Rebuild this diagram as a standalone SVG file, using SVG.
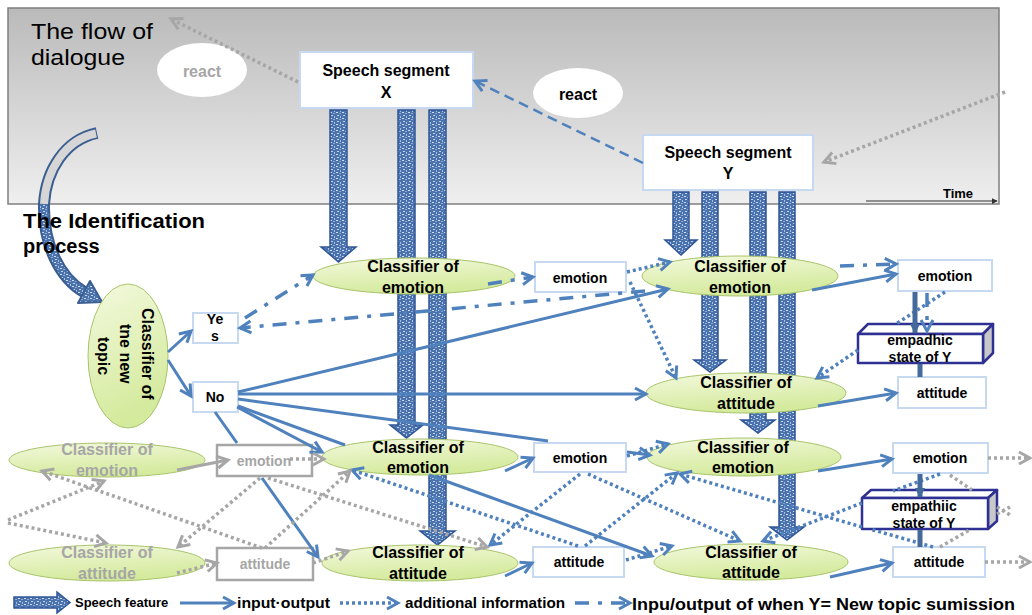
<svg xmlns="http://www.w3.org/2000/svg" width="1032" height="615" viewBox="0 0 1032 615">
<style>
.lbl{font-family:"Liberation Sans",Arial,sans-serif;font-weight:bold;font-size:16px;text-anchor:middle;fill:#000}
.blbl{font-family:"Liberation Sans",Arial,sans-serif;font-weight:bold;font-size:14px;text-anchor:middle;fill:#000}
.gray{fill:#a6a6a6}
.box{fill:#fff;stroke:#c6d9f1;stroke-width:2}
.gbox{fill:#fff;stroke:#a6a6a6;stroke-width:2.5}
.ell{fill:url(#green);stroke:#a9c46c;stroke-width:1}
.bar{fill:url(#speckle);stroke:#2f5597;stroke-width:1.5}
.cube{stroke:#2e3192;stroke-width:2.5;stroke-linejoin:round}
.io{fill:none;stroke:#4f81bd;stroke-width:3}
.ai{fill:none;stroke:#4f81bd;stroke-width:3.5;stroke-dasharray:3 3}
.nt{fill:none;stroke:#4f81bd;stroke-width:3.5;stroke-dasharray:14 9 4 9}
.gd{fill:none;stroke:#a6a6a6;stroke-width:3.5;stroke-dasharray:3 3}
.gs{fill:none;stroke:#a6a6a6;stroke-width:3}
.dash{fill:none;stroke:#4f81bd;stroke-width:2.5;stroke-dasharray:10 6}
.emp{fill:none;stroke:#44699b;stroke-width:5}
.leg{font-family:"Liberation Sans",Arial,sans-serif;font-weight:bold;fill:#000}
</style>
<defs>
<linearGradient id="panelGrad" x1="0" y1="0" x2="0" y2="1">
<stop offset="0" stop-color="#bababa"/>
<stop offset="1" stop-color="#efefef"/>
</linearGradient>
<linearGradient id="green" x1="0" y1="0" x2="0.3" y2="1">
<stop offset="0" stop-color="#f3f9de"/>
<stop offset="1" stop-color="#d4ea9c"/>
</linearGradient>
<pattern id="speckle" width="6" height="6" patternUnits="userSpaceOnUse">
<rect width="6" height="6" fill="#4a72ad"/>
<rect x="1" y="1" width="2" height="1" fill="#c3d3ea"/>
<rect x="4" y="2" width="1" height="2" fill="#a9c0e0"/>
<rect x="0" y="4" width="2" height="1" fill="#d2ddef"/>
<rect x="3" y="5" width="2" height="1" fill="#8eaad4"/>
</pattern>
<marker id="ab" viewBox="-2 -2 16 16" refX="11" refY="6" markerWidth="16" markerHeight="16" markerUnits="userSpaceOnUse" orient="auto">
<path d="M0,0 L11,6 L0,12" fill="none" stroke="#4f81bd" stroke-width="3" stroke-linejoin="miter"/>
</marker>
<marker id="ag" viewBox="-2 -2 16 16" refX="11" refY="6" markerWidth="16" markerHeight="16" markerUnits="userSpaceOnUse" orient="auto">
<path d="M0,0 L11,6 L0,12" fill="none" stroke="#a6a6a6" stroke-width="3"/>
</marker>
<marker id="ad" viewBox="0 0 10 10" refX="9" refY="5" markerWidth="10" markerHeight="10" markerUnits="userSpaceOnUse" orient="auto">
<path d="M0,0 L10,5 L0,10 Z" fill="#44699b"/>
</marker>
<marker id="ak" viewBox="0 0 8 8" refX="7" refY="4" markerWidth="6" markerHeight="6" markerUnits="userSpaceOnUse" orient="auto">
<path d="M0,0 L8,4 L0,8 Z" fill="#333"/>
</marker>
</defs>

<!-- top panel -->
<g id="dialogue-panel">
<rect x="8" y="8" width="991" height="196" fill="url(#panelGrad)" stroke="#7f7f7f" stroke-width="1.5"/>
<text x="31" y="39" font-family="Liberation Sans,Arial,sans-serif" font-size="22" textLength="122" lengthAdjust="spacingAndGlyphs">The flow of</text>
<text x="31" y="65" font-family="Liberation Sans,Arial,sans-serif" font-size="22" textLength="94" lengthAdjust="spacingAndGlyphs">dialogue</text>
<line x1="866" y1="201" x2="997" y2="201" stroke="#333" stroke-width="1" marker-end="url(#ak)"/>
<text x="958" y="198" class="leg" font-size="13" text-anchor="middle">Time</text>
</g>

<g id="react-1">
<ellipse cx="202" cy="70" rx="45" ry="27" fill="#fff"/>
<text x="202" y="77" class="lbl gray" font-size="18">react</text>
</g>
<g id="react-2">
<ellipse cx="578" cy="93" rx="45" ry="25" fill="#fff"/>
<text x="578" y="100" class="lbl" font-size="18">react</text>
</g>

<g id="speech-segment-x">
<rect x="300" y="52" width="173" height="56" class="box"/>
<text x="386" y="76" class="lbl">Speech segment</text>
<text x="386" y="98" class="lbl">X</text>
</g>
<g id="speech-segment-y">
<rect x="643" y="135" width="170" height="55" class="box"/>
<text x="728" y="158" class="lbl">Speech segment</text>
<text x="728" y="179" class="lbl">Y</text>
</g>

<!-- speech feature arrows -->
<g id="speech-features">
<path class="bar" d="M330,110 H347 V247 H356 L338.5,262 L321,247 H330 Z"/>
<path class="bar" d="M398,110 H415 V425 H423 L406.5,438 L390,425 H398 Z"/>
<path class="bar" d="M429,110 H446 V531 H455 L437.5,545 L420,531 H429 Z"/>
<path class="bar" d="M673,192 H689 V240 H697 L681,255 L665,240 H673 Z"/>
<path class="bar" d="M702,192 H718 V360 H726 L710,372 L694,360 H702 Z"/>
<path class="bar" d="M750,192 H766 V420 H775 L758,433 L741,420 H750 Z"/>
<path class="bar" d="M779,192 H795 V527 H804 L787,540 L770,527 H779 Z"/>
</g>

<!-- big curved arrow -->
<g id="process-arrow">
<path d="M97,133 C65,140 46,170 44,204 C43,245 60,278 84,292" fill="none" stroke="#3b5e91" stroke-width="12"/>
<path d="M96,133.5 C65,140 46,170 44,204" fill="none" stroke="#d6d6d6" stroke-width="8"/>
<path d="M44,204 C43,245 60,278 85,292.5" fill="none" stroke="url(#speckle)" stroke-width="8"/>
<path d="M90,281 L102,302 L78,303 Z" fill="url(#speckle)" stroke="#3b5e91" stroke-width="2" stroke-linejoin="round"/>
</g>

<g id="title-identification">
<text x="23" y="228" class="leg" font-size="20" textLength="182" lengthAdjust="spacingAndGlyphs">The Identification</text>
<text x="23" y="253" class="leg" font-size="20">process</text>
</g>

<g id="topic-classifier">
<ellipse cx="128" cy="356" rx="40" ry="72" class="ell"/>
<text transform="translate(128,356) rotate(90)" class="lbl" font-size="15">
<tspan x="0" y="-14">Classifier of</tspan>
<tspan x="0" y="8">tne new</tspan>
<tspan x="0" y="30">topic</tspan>
</text>
</g>
<g id="yes">
<rect x="193" y="313" width="45" height="30" class="box"/>
<text x="215" y="324" class="blbl">Ye</text>
<text x="215" y="341" class="blbl">s</text>
</g>
<g id="no">
<rect x="193" y="382" width="45" height="30" class="box"/>
<text x="215" y="402" class="blbl">No</text>
</g>

<g id="x-emotion-classifier-1">
<ellipse cx="414" cy="276" rx="101" ry="18" class="ell"/>
<text x="413" y="272" class="lbl">Classifier of</text>
<text x="413" y="293" class="lbl">emotion</text>
</g>
<g id="x-emotion-box-1">
<rect x="535" y="262" width="91" height="30" class="box"/>
<text x="580" y="283" class="blbl">emotion</text>
</g>
<g id="y-emotion-classifier-1">
<ellipse cx="740" cy="276" rx="98" ry="20" class="ell"/>
<text x="740" y="272" class="lbl">Classifier of</text>
<text x="740" y="293" class="lbl">emotion</text>
</g>
<g id="y-attitude-classifier-1">
<ellipse cx="746" cy="393" rx="100" ry="20" class="ell"/>
<text x="746" y="388" class="lbl">Classifier of</text>
<text x="746" y="409" class="lbl">attitude</text>
</g>
<g id="y-emotion-box-1">
<rect x="898" y="260" width="94" height="31" class="box"/>
<text x="945" y="281" class="blbl">emotion</text>
</g>
<g id="y-attitude-box-1">
<rect x="898" y="377" width="88" height="31" class="box"/>
<text x="942" y="398" class="blbl">attitude</text>
</g>
<g id="empadhic-state">
<path class="cube" d="M858,334 L868,324 L993,324 L983,334 Z" fill="#fff"/>
<path class="cube" d="M983,334 L993,324 L993,353 L983,363 Z" fill="#c8c8c8"/>
<rect x="858" y="334" width="125" height="29" class="cube" fill="#fff"/>
<text x="920" y="345" class="blbl" font-size="13">empadhic</text>
<text x="920" y="362" class="blbl" font-size="13">state of Y</text>
</g>

<g id="gray-emotion-classifier">
<ellipse cx="107" cy="460" rx="98" ry="17" class="ell"/>
<text x="107" y="455" class="lbl gray">Classifier of</text>
<text x="107" y="476" class="lbl gray">emotion</text>
</g>
<g id="gray-emotion-box">
<rect x="217" y="445" width="95" height="31" class="gbox"/>
<text x="264" y="466" class="blbl gray">emotion</text>
</g>
<g id="gray-attitude-classifier">
<ellipse cx="107" cy="563" rx="98" ry="18" class="ell"/>
<text x="107" y="558" class="lbl gray">Classifier of</text>
<text x="107" y="579" class="lbl gray">attitude</text>
</g>
<g id="gray-attitude-box">
<rect x="217" y="548" width="96" height="32" class="gbox"/>
<text x="265" y="569" class="blbl gray">attitude</text>
</g>

<g id="x-emotion-classifier-2">
<ellipse cx="420" cy="457" rx="98" ry="18" class="ell"/>
<text x="418" y="453" class="lbl">Classifier of</text>
<text x="418" y="473" class="lbl">emotion</text>
</g>
<g id="x-emotion-box-2">
<rect x="534" y="443" width="92" height="29" class="box"/>
<text x="580" y="463" class="blbl">emotion</text>
</g>
<g id="x-attitude-classifier-2">
<ellipse cx="420" cy="563" rx="98" ry="18" class="ell"/>
<text x="418" y="558" class="lbl">Classifier of</text>
<text x="418" y="579" class="lbl">attitude</text>
</g>
<g id="x-attitude-box-2">
<rect x="533" y="547" width="91" height="30" class="box"/>
<text x="579" y="567" class="blbl">attitude</text>
</g>
<g id="y-emotion-classifier-2">
<ellipse cx="744" cy="457" rx="97" ry="19" class="ell"/>
<text x="743" y="453" class="lbl">Classifier of</text>
<text x="743" y="473" class="lbl">emotion</text>
</g>
<g id="y-attitude-classifier-2">
<ellipse cx="751" cy="562" rx="97" ry="18" class="ell"/>
<text x="751" y="558" class="lbl">Classifier of</text>
<text x="751" y="578" class="lbl">attitude</text>
</g>
<g id="y-emotion-box-2">
<rect x="893" y="443" width="95" height="30" class="box"/>
<text x="940" y="463" class="blbl">emotion</text>
</g>
<g id="y-attitude-box-2">
<rect x="893" y="547" width="92" height="30" class="box"/>
<text x="939" y="567" class="blbl">attitude</text>
</g>
<g id="empathiic-state">
<path class="cube" d="M862,498 L871,490 L997,490 L988,498 Z" fill="#fff"/>
<path class="cube" d="M988,498 L997,490 L997,521 L988,529 Z" fill="#c8c8c8"/>
<rect x="862" y="498" width="126" height="31" class="cube" fill="#fff"/>
<text x="924" y="511" class="blbl" font-size="13">empathiic</text>
<text x="924" y="528" class="blbl" font-size="13">state of Y</text>
</g>

<!-- connectors -->
<g id="connectors">
<path class="gd" d="M298,82 L171,19" marker-end="url(#ag)"/>
<path class="gd" d="M1005,92 L824,162" marker-end="url(#ag)"/>
<path class="dash" d="M643,163 L475,81" marker-end="url(#ab)"/>

<path class="io" d="M168,352 L191,331" marker-end="url(#ab)"/>
<path class="io" d="M168,360 L191,396" marker-end="url(#ab)"/>
<path class="io" d="M238,392 L668,289" marker-end="url(#ab)"/>
<path class="io" d="M238,394 L646,394" marker-end="url(#ab)"/>
<path class="io" d="M238,399 L548,441"/>
<path class="io" d="M627,452 L650,455" marker-end="url(#ab)"/>
<path class="io" d="M237,407 L322,452" marker-end="url(#ab)"/>
<path class="io" d="M215,412 L237,443"/>
<path class="io" d="M262,478 L318,557" marker-end="url(#ab)"/>
<path class="io" d="M238,406 L345,445"/>
<path class="io" d="M429,475 L652,556" marker-end="url(#ab)"/>
<path class="io" d="M505,471 L533,458" marker-end="url(#ab)"/>
<path class="io" d="M505,576 L532,563" marker-end="url(#ab)"/>
<path class="io" d="M812,290 L896,274" marker-end="url(#ab)"/>
<path class="io" d="M818,406 L896,393" marker-end="url(#ab)"/>
<path class="io" d="M818,471 L892,459" marker-end="url(#ab)"/>
<path class="io" d="M830,577 L892,563" marker-end="url(#ab)"/>

<path class="nt" d="M645,291 L240,328" marker-end="url(#ab)"/>
<path class="nt" d="M245,318 L313,275" marker-end="url(#ab)"/>
<path class="nt" d="M488,284 L533,277" marker-end="url(#ab)"/>
<path class="nt" d="M840,266 L896,264" marker-end="url(#ab)"/>
<path class="nt" d="M927,293 L927,331" marker-end="url(#ab)"/>

<path class="ai" d="M627,272 L670,262" marker-end="url(#ab)"/>
<path class="ai" d="M630,282 L676,378" marker-end="url(#ab)"/>
<path class="ai" d="M945,292 L896,324"/>
<path class="ai" d="M858,350 L817,378" marker-end="url(#ab)"/>
<path class="ai" d="M627,456 L668,444" marker-end="url(#ab)"/>
<path class="ai" d="M626,560 L672,546" marker-end="url(#ab)"/>
<path class="ai" d="M580,474 L490,545" marker-end="url(#ab)"/>
<path class="ai" d="M588,474 L740,541" marker-end="url(#ab)"/>
<path class="ai" d="M578,546 L352,470" marker-end="url(#ab)"/>
<path class="ai" d="M585,546 L677,473" marker-end="url(#ab)"/>
<path class="ai" d="M940,474 L893,491"/>
<path class="ai" d="M862,503 L763,541" marker-end="url(#ab)"/>
<path class="ai" d="M933,547 L870,529"/>
<path class="ai" d="M862,527 L680,474" marker-end="url(#ab)"/>

<path class="emp" d="M915,292 L915,333" marker-end="url(#ad)"/>
<path class="emp" d="M920,377 L920,364"/>
<path class="emp" d="M920,474 L920,497" marker-end="url(#ad)"/>
<path class="emp" d="M920,547 L920,530"/>

<path class="gs" d="M177,470 L228,460" marker-end="url(#ag)"/>
<path class="gd" d="M290,459 L324,459" marker-end="url(#ag)"/>
<path class="gd" d="M177,573 L217,563" marker-end="url(#ag)"/>
<path class="gd" d="M313,563 L348,551" marker-end="url(#ag)"/>
<path class="gd" d="M8,520 L104,481" marker-end="url(#ag)"/>
<path class="gd" d="M8,523 L106,543" marker-end="url(#ag)"/>
<path class="gd" d="M262,548 L42,471" marker-end="url(#ag)"/>
<path class="gd" d="M260,478 L178,547" marker-end="url(#ag)"/>
<path class="gd" d="M268,478 L487,547" marker-end="url(#ag)"/>
<path class="gd" d="M265,548 L350,471" marker-end="url(#ag)"/>
<path class="gd" d="M988,458 L1030,458" marker-end="url(#ag)"/>
<path class="gd" d="M985,562 L1030,562" marker-end="url(#ag)"/>
<path class="gd" d="M950,475 L972,490"/>
<path class="gd" d="M997,507 L1010,515"/>
<path class="gd" d="M940,547 L971,529"/>
<path class="gd" d="M997,514 L1010,507"/>
</g>

<!-- legend -->
<g id="legend">
<path class="bar" d="M14,597 L57,597 L57,592 L70,602.5 L57,613 L57,608 L14,608 Z"/>
<text x="75" y="607" class="leg" font-size="13">Speech feature</text>
<path class="io" d="M180,603 L234,603" marker-end="url(#ab)"/>
<text x="237" y="608" class="leg" font-size="15" textLength="93" lengthAdjust="spacingAndGlyphs">input·output</text>
<path class="ai" d="M340,603 L398,603" marker-end="url(#ab)"/>
<text x="405" y="608" class="leg" font-size="15" textLength="160" lengthAdjust="spacingAndGlyphs">additional information</text>
<path class="nt" d="M575,603 L630,603" marker-end="url(#ab)"/>
<text x="632" y="610" class="leg" font-size="17" textLength="383" lengthAdjust="spacingAndGlyphs">Inpu/output of when Y= New topic sumission</text>
</g>
</svg>
